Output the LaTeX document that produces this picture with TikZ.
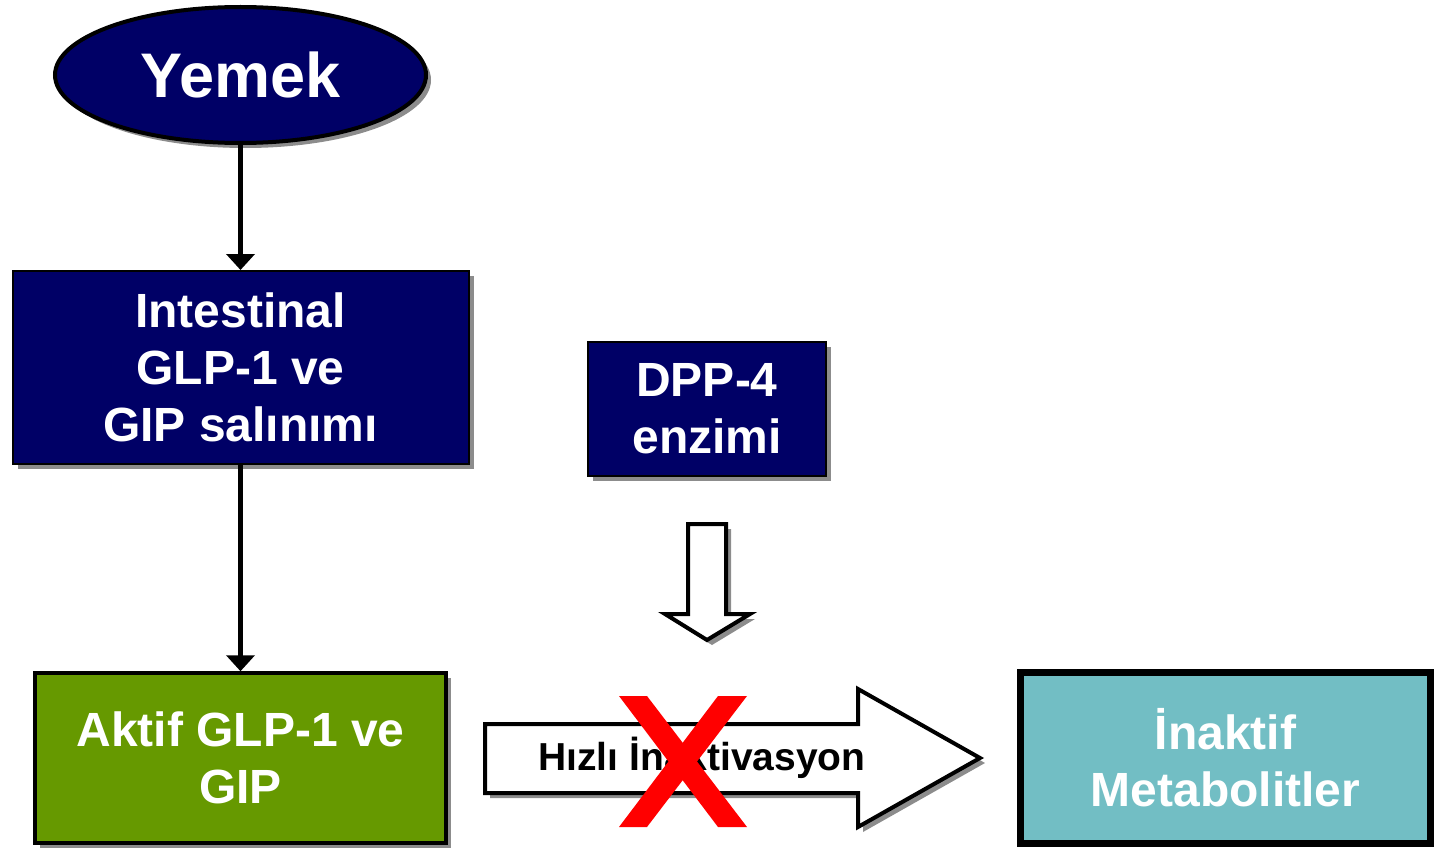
\documentclass[tikz,border=0pt]{standalone}
\usepackage{fontspec}
\setmainfont{Liberation Sans}
\usetikzlibrary{shapes.geometric,arrows.meta,shadows}
\definecolor{navy}{RGB}{0,0,102}
\definecolor{leaf}{RGB}{102,153,0}
\definecolor{tealbox}{RGB}{114,190,196}
\definecolor{xred}{RGB}{255,0,0}
\begin{document}
\begin{tikzpicture}[x=1pt,y=-1pt,
  shad/.style={drop shadow={shadow xshift=5pt,shadow yshift=-5pt,opacity=0.45,fill=black}},
  bigtxt/.style={font=\bfseries\fontsize{48}{57}\selectfont, text=white, align=center},
  navybox/.style={rectangle, draw=black, line width=2pt, fill=navy, bigtxt, shad, inner sep=0pt},
  conn/.style={line width=4.5pt, -{Triangle[width=28pt,length=16pt]}},
  blockarrow/.style={draw=black, line width=4pt, fill=white, line join=miter, shad}
]
\useasboundingbox (0,0) rectangle (1435,848);

\node[ellipse, draw=black, line width=4pt, fill=navy, minimum width=371pt, minimum height=136pt,
      inner sep=0pt, shad, text=white, font=\bfseries\fontsize{63}{70}\selectfont] (yemek) at (240.5,75) {Yemek};

\node[navybox, minimum width=456pt, minimum height=193pt] (intest) at (240.5,367.5)
  {Intestinal\\GLP-1 ve\\GIP salınımı};

\node[navybox, minimum width=238pt, minimum height=134pt] (dpp) at (707,409)
  {DPP-4\\enzimi};

\node[rectangle, draw=black, line width=3.5pt, fill=leaf, bigtxt, shad, inner sep=0pt,
      minimum width=411pt, minimum height=170pt] (aktif) at (240.5,758)
  {Aktif GLP-1 ve\\GIP};

\node[rectangle, draw=black, line width=7pt, fill=tealbox, bigtxt, inner sep=0pt,
      minimum width=410pt, minimum height=170.5pt] (inaktif) at (1225.5,758)
  {İnaktif\\Metabolitler};

\draw[conn] (yemek.south) -- (intest.north);
\draw[conn] (intest.south) -- (aktif.north);

% hollow down arrow below DPP-4
\draw[blockarrow] (688,524) -- (726,524) -- (726,614) -- (750,614) -- (707,640)
  -- (665,614) -- (688,614) -- cycle;

% big right block arrow
\draw[blockarrow] (485,724) -- (858,724) -- (858,689) -- (980,758) -- (858,827)
  -- (858,793) -- (485,793) -- cycle;
\node[anchor=base, inner sep=0pt, font=\bfseries\fontsize{39}{45}\selectfont] (hizli) at (702,770)
  {Hızlı İnaktivasyon};

% red cross
\fill[xred] (619,696) -- (647,696) -- (747,827) -- (718,827) -- cycle;
\fill[xred] (718,696) -- (747,696) -- (647,827) -- (619,827) -- cycle;
\end{tikzpicture}
\end{document}
